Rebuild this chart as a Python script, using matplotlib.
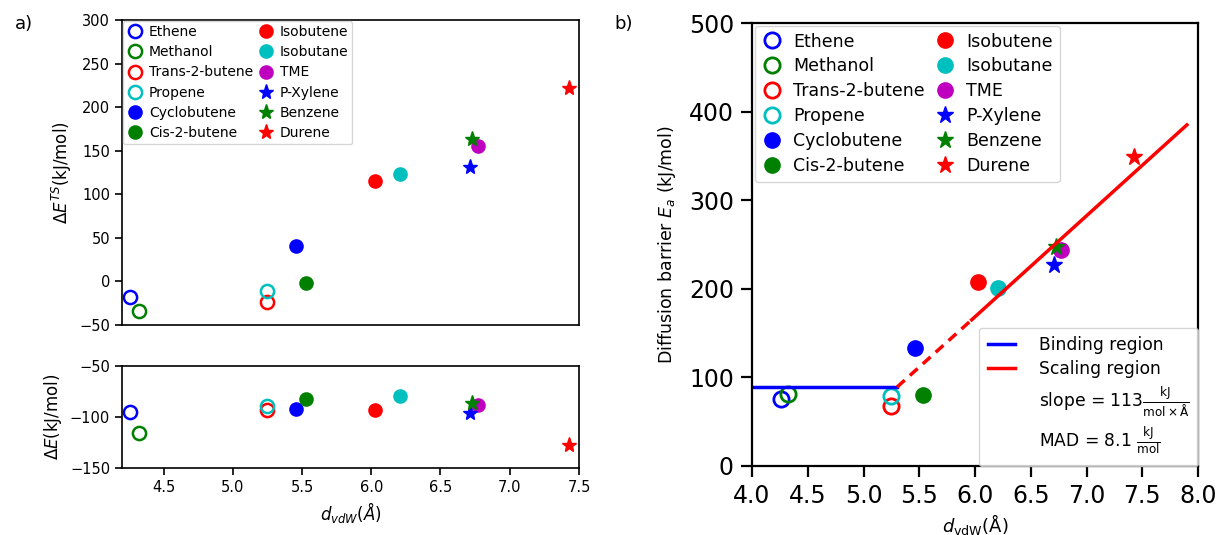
import matplotlib
matplotlib.use('Agg')
import matplotlib.pyplot as plt
from matplotlib.lines import Line2D

species = ['Ethene', 'Methanol', 'Trans-2-butene', 'Propene', 'Cyclobutene',
           'Cis-2-butene', 'Isobutene', 'Isobutane', 'TME', 'P-Xylene',
           'Benzene', 'Durene']
d_vdw = [4.26, 4.32, 5.25, 5.25, 5.46, 5.53, 6.03, 6.21, 6.77, 6.71, 6.73, 7.43]
dE_ts = [-18, -34, -24, -11, 41, -2, 115, 123, 156, 131, 163, 222]
dE_ads = [-95, -116, -93, -89, -92, -82, -93, -79, -88, -96, -86, -127]
Ea = [76, 81, 68, 79, 133, 80, 208, 201, 244, 227, 247, 349]
colors = ['b', 'g', 'r', 'c', 'b', 'g', 'r', 'c', 'm', 'b', 'g', 'r']
markers = ['o'] * 9 + ['*'] * 3
filled = [False] * 4 + [True] * 8

binding_x = [4.0, 5.30]
binding_y = [89, 89]
scaling_dash_x = [5.30, 5.97]
scaling_dash_y = [89, 165]
scaling_x = [5.97, 7.90]
scaling_y = [165, 385]
slope_label = r'slope = 113$\frac{\mathrm{kJ}}{\mathrm{mol}\times\mathrm{\AA}}$'
mad_label = r'MAD = 8.1 $\frac{\mathrm{kJ}}{\mathrm{mol}}$'

fig = plt.figure(figsize=(12.22, 5.35), dpi=100)
ax1 = fig.add_axes([0.0998, 0.3925, 0.374, 0.570])
ax2 = fig.add_axes([0.0998, 0.1252, 0.374, 0.1907], sharex=ax1)
ax3 = fig.add_axes([0.6154, 0.129, 0.365, 0.828])


def draw(ax, yvals, ms_c, ms_s, mew):
    for name, x, y, c, m, f in zip(species, d_vdw, yvals, colors, markers, filled):
        ms = ms_c if m == 'o' else ms_s
        ax.plot([x], [y], linestyle='none', marker=m, color=c,
                mfc=c if f else 'none', mec=c, ms=ms, mew=mew if not f else 1.0,
                label=name)


draw(ax1, dE_ts, 9.5, 11, 1.8)
draw(ax2, dE_ads, 9.5, 11, 1.8)
draw(ax3, Ea, 11, 12.5, 2.0)

for ax in (ax1, ax2):
    for s in ax.spines.values():
        s.set_linewidth(1.2)
    ax.tick_params(labelsize=10.5, length=5, width=1.2)

ax1.set_xlim(4.2, 7.5)
ax1.set_ylim(-50, 300)
ax1.set_yticks(range(-50, 301, 50))
ax1.tick_params(axis='x', bottom=False, labelbottom=False)
ax1.set_ylabel(r'$\Delta E^{TS}$(kJ/mol)', fontsize=12)
ax2.set_ylim(-150, -50)
ax2.set_yticks([-150, -100, -50])
ax2.set_xticks([4.5, 5.0, 5.5, 6.0, 6.5, 7.0, 7.5])
ax2.set_ylabel(r'$\Delta E$(kJ/mol)', fontsize=12)
ax2.set_xlabel(r'$d_{vdW}(Å)$', fontsize=12)

ax1.legend(loc='upper left', ncol=2, fontsize=10, borderaxespad=0.05,
           handlelength=1.2, handletextpad=0.4, columnspacing=0.3,
           numpoints=1, labelspacing=0.45, borderpad=0.3)

# right panel
lb, = ax3.plot(binding_x, binding_y, color='b', lw=2.5, label='Binding region')
ax3.plot(scaling_dash_x, scaling_dash_y, color='r', lw=2.5, ls=(0, (3, 2)))
ls, = ax3.plot(scaling_x, scaling_y, color='r', lw=2.5, label='Scaling region')
ax3.set_xlim(4.0, 8.0)
ax3.set_ylim(0, 500)
ax3.set_xticks([4.0, 4.5, 5.0, 5.5, 6.0, 6.5, 7.0, 7.5, 8.0])
ax3.set_yticks(range(0, 501, 100))
for s in ax3.spines.values():
    s.set_linewidth(1.6)
ax3.tick_params(labelsize=17, length=8, width=1.6, pad=5)
ax3.set_ylabel(r'Diffusion barrier $E_a$ (kJ/mol)', fontsize=12.5, labelpad=8)
ax3.set_xlabel(r'$d_{\mathrm{vdW}}$(Å)', fontsize=13, labelpad=3)

h, l = ax3.get_legend_handles_labels()
sp_h = [hh for hh, ll in zip(h, l) if ll in species]
sp_l = [ll for ll in l if ll in species]
leg1 = ax3.legend(sp_h, sp_l, loc='upper left', ncol=2, fontsize=12.5,
                  borderaxespad=0.15, handlelength=1.2, handletextpad=0.6,
                  columnspacing=0.6, numpoints=1, labelspacing=0.4)
ax3.add_artist(leg1)
blank1 = Line2D([], [], color='none')
blank2 = Line2D([], [], color='none')
ax3.legend([lb, ls, blank1, blank2],
           ['Binding region', 'Scaling region', slope_label, mad_label],
           loc='lower right', fontsize=12.3, borderaxespad=0.0,
           handlelength=1.6, handletextpad=1.4, labelspacing=0.35,
           borderpad=0.5)

fig.text(0.012, 0.955, 'a)', fontsize=13, va='center')
fig.text(0.503, 0.955, 'b)', fontsize=13, va='center')

fig.savefig('out.png', dpi=100)
